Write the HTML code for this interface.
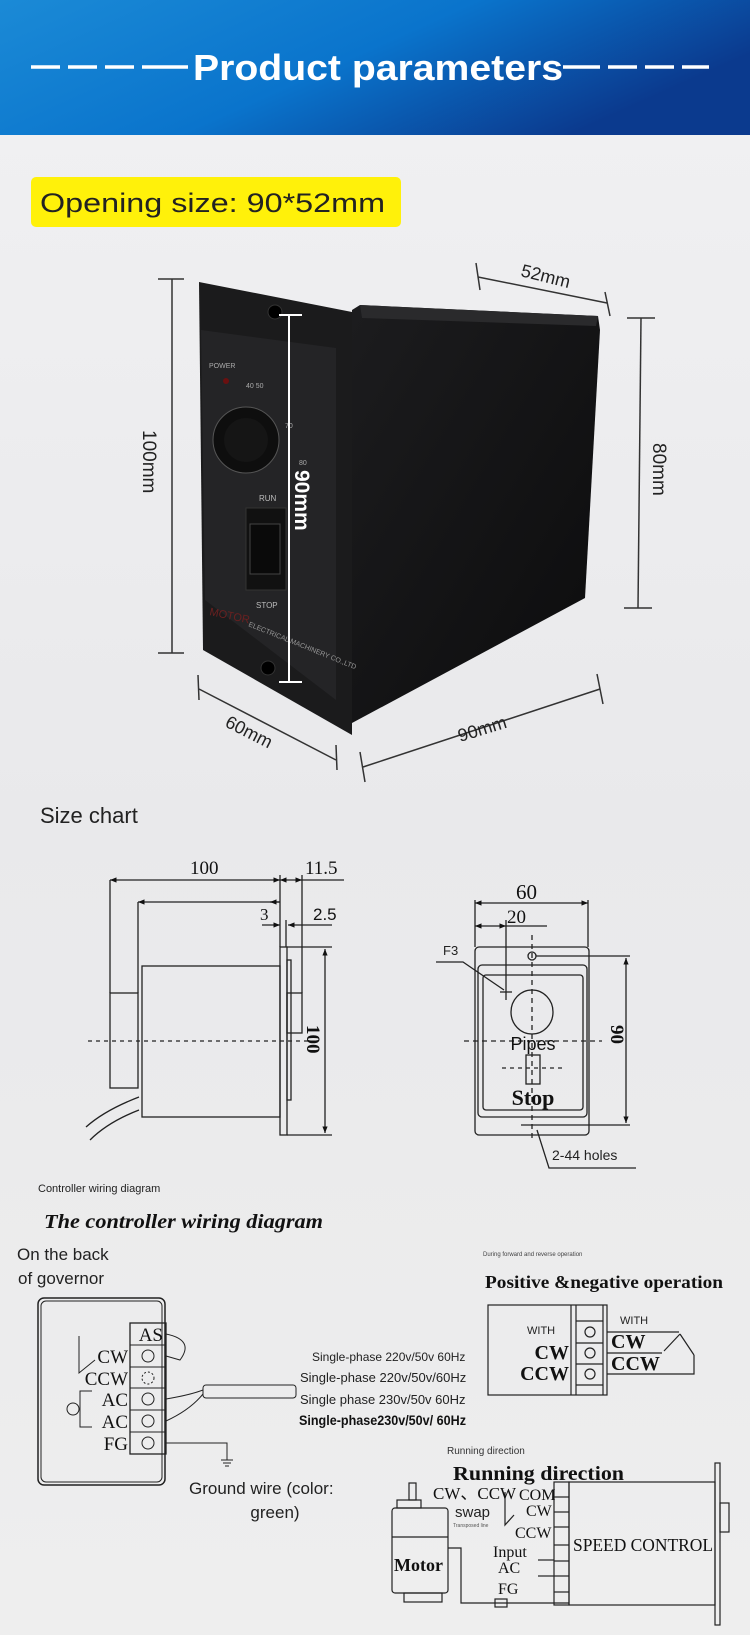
<!DOCTYPE html>
<html><head><meta charset="utf-8"><style>
html,body{margin:0;padding:0;width:750px;height:1635px;overflow:hidden;background:#ececec}
svg{display:block}
</style></head><body>
<svg width="750" height="1635" viewBox="0 0 750 1635" xmlns="http://www.w3.org/2000/svg" font-family="Liberation Sans, sans-serif">
<defs>
<linearGradient id="hd" x1="0" y1="0" x2="1" y2="0.4">
<stop offset="0" stop-color="#1b8ad6"/><stop offset="0.55" stop-color="#0a74cc"/><stop offset="1" stop-color="#0b3a8e"/></linearGradient>
<linearGradient id="bg" x1="0" y1="0" x2="0" y2="1">
<stop offset="0" stop-color="#f1f1f3"/><stop offset="0.5" stop-color="#e9e9eb"/><stop offset="1" stop-color="#eeeeee"/></linearGradient>
<linearGradient id="bd" x1="0" y1="0" x2="1" y2="1">
<stop offset="0" stop-color="#1c1c1e"/><stop offset="1" stop-color="#0c0c0d"/></linearGradient>
<marker id="ar" viewBox="0 0 10 10" refX="10" refY="5" markerWidth="7" markerHeight="5" orient="auto-start-reverse"><path d="M0,1L10,5L0,9z" fill="#111"/></marker>
</defs>
<rect width="750" height="1635" fill="url(#bg)"/>
<rect width="750" height="135" fill="url(#hd)"/>
<g stroke="#fff" stroke-width="3.5">
<line x1="31" y1="67" x2="60" y2="67"/><line x1="68" y1="67" x2="97" y2="67"/><line x1="105" y1="67" x2="134" y2="67"/><line x1="142" y1="67" x2="188" y2="67"/>
<line x1="563" y1="67" x2="600" y2="67"/><line x1="608" y1="67" x2="637" y2="67"/><line x1="645" y1="67" x2="674" y2="67"/><line x1="682" y1="67" x2="709" y2="67"/>
</g>
<text x="378" y="80" fill="#fff" font-size="36" font-weight="bold" text-anchor="middle" textLength="370" lengthAdjust="spacingAndGlyphs">Product parameters</text>
<rect x="31" y="177" width="370" height="50" rx="5" fill="#fff10a"/>
<text x="40" y="212" font-size="27" fill="#222" textLength="345" lengthAdjust="spacingAndGlyphs">Opening size: 90*52mm</text>

<!-- product photo -->
<polygon points="352,310 360,305 598,316 600,330 585,598 352,723" fill="url(#bd)"/>
<polygon points="360,305 598,316 596,326 362,318" fill="#2a2a2c"/>
<polygon points="199,282 352,312 352,735 203,650" fill="#1b1b1c"/>
<polygon points="201,330 336,348 336,700 205,600" fill="#242426"/>
<circle cx="275" cy="312" r="7" fill="#000" stroke="#333"/>
<circle cx="268" cy="668" r="7" fill="#000" stroke="#333"/>
<text x="209" y="368" font-size="7" fill="#aaa">POWER</text>
<circle cx="226" cy="381" r="3" fill="#6a1010"/>
<circle cx="246" cy="440" r="33" fill="#0e0e0e" stroke="#555" stroke-width="1"/>
<circle cx="246" cy="440" r="22" fill="#151515"/>
<text x="246" y="388" font-size="7" fill="#aaa">40  50</text>
<text x="285" y="428" font-size="7" fill="#aaa">70</text>
<text x="299" y="465" font-size="7" fill="#aaa">80</text>
<text x="259" y="501" font-size="8" fill="#bbb">RUN</text>
<rect x="246" y="508" width="40" height="82" fill="#111" stroke="#333"/>
<rect x="250" y="524" width="30" height="50" fill="#0a0a0a" stroke="#444"/>
<text x="256" y="608" font-size="8" fill="#bbb">STOP</text>
<text x="209" y="615" font-size="11" fill="#6a2020" transform="rotate(12 209 615)">MOTOR</text>
<text x="248" y="626" font-size="7" fill="#999" transform="rotate(22 248 626)">ELECTRICAL MACHINERY CO.,LTD</text>
<line x1="289" y1="315" x2="289" y2="682" stroke="#fff" stroke-width="2"/>
<line x1="279" y1="315" x2="302" y2="315" stroke="#fff" stroke-width="2"/>
<line x1="279" y1="682" x2="302" y2="682" stroke="#fff" stroke-width="2"/>
<text x="0" y="0" font-size="21" font-weight="bold" fill="#fff" transform="translate(295,470) rotate(90)">90mm</text>
<g stroke="#333" stroke-width="1.5" fill="none">
<line x1="172" y1="279" x2="172" y2="653"/><line x1="158" y1="279" x2="184" y2="279"/><line x1="158" y1="653" x2="184" y2="653"/>
<line x1="641" y1="318" x2="638" y2="608"/><line x1="627" y1="318" x2="655" y2="318"/><line x1="624" y1="608" x2="652" y2="608"/>
<line x1="478" y1="277" x2="607" y2="303"/><line x1="476" y1="263" x2="480" y2="290"/><line x1="605" y1="292" x2="610" y2="316"/>
<line x1="363" y1="767" x2="600" y2="689"/><line x1="360" y1="752" x2="365" y2="782"/><line x1="597" y1="674" x2="603" y2="704"/>
<line x1="199" y1="689" x2="336" y2="760"/><line x1="198" y1="675" x2="199" y2="700"/><line x1="336" y1="745" x2="337" y2="770"/>
</g>
<text font-size="19" fill="#222" transform="translate(143,430) rotate(90)">100mm</text>
<text font-size="19" fill="#222" transform="translate(653,443) rotate(90)">80mm</text>
<text x="520" y="276" font-size="18" fill="#222" transform="rotate(14 520 276)">52mm</text>
<text x="460" y="742" font-size="18" fill="#222" transform="rotate(-17 460 742)">90mm</text>
<text x="224" y="726" font-size="18" fill="#222" transform="rotate(27 224 726)">60mm</text>

<!-- size chart -->
<text x="40" y="823" font-size="22" fill="#222">Size chart</text>
<g stroke="#222" stroke-width="1.3" fill="none">
<line x1="110" y1="880" x2="280" y2="880" marker-start="url(#ar)" marker-end="url(#ar)"/>
<line x1="280" y1="880" x2="302" y2="880" marker-start="url(#ar)" marker-end="url(#ar)"/>
<line x1="302" y1="880" x2="344" y2="880"/>
<line x1="138" y1="902" x2="280" y2="902" marker-start="url(#ar)"/>
<line x1="280" y1="902" x2="270" y2="902" marker-end="url(#ar)"/>
<line x1="262" y1="925" x2="280" y2="925" marker-end="url(#ar)"/>
<line x1="332" y1="925" x2="288" y2="925" marker-end="url(#ar)"/>
<line x1="110" y1="880" x2="110" y2="993"/><line x1="138" y1="902" x2="138" y2="993"/>
<line x1="280" y1="875" x2="280" y2="947"/><line x1="286" y1="920" x2="286" y2="947"/><line x1="302" y1="875" x2="302" y2="993"/>
<rect x="280" y="947" width="7" height="188"/>
<rect x="142" y="966" width="138" height="151"/>
<rect x="110" y="993" width="28" height="95"/>
<rect x="287" y="993" width="15" height="40"/>
<rect x="287" y="960" width="4" height="140"/>
<line x1="88" y1="1041" x2="311" y2="1041" stroke-dasharray="4,4"/>
<line x1="325" y1="949" x2="325" y2="1133" marker-start="url(#ar)" marker-end="url(#ar)"/>
<line x1="287" y1="947" x2="332" y2="947"/><line x1="287" y1="1135" x2="332" y2="1135"/>
<path d="M139,1097 Q105,1110 86,1127"/><path d="M139,1110 Q108,1122 90,1140"/>
</g>
<text x="190" y="874" font-size="19" fill="#111" font-family="Liberation Serif, serif">100</text>
<text x="305" y="874" font-size="19" fill="#111" font-family="Liberation Serif, serif">11.5</text>
<text x="260" y="920" font-size="17" fill="#111" font-family="Liberation Serif, serif">3</text>
<text x="313" y="920" font-size="17" fill="#111">2.5</text>
<text font-size="19" fill="#111" font-family="Liberation Serif, serif" font-weight="bold" transform="translate(307,1025) rotate(90)">100</text>

<g stroke="#222" stroke-width="1.3" fill="none">
<line x1="475" y1="903" x2="588" y2="903" marker-start="url(#ar)" marker-end="url(#ar)"/>
<line x1="475" y1="926" x2="506" y2="926" marker-start="url(#ar)" marker-end="url(#ar)"/>
<line x1="506" y1="926" x2="547" y2="926"/>
<line x1="475" y1="900" x2="475" y2="947"/><line x1="588" y1="900" x2="588" y2="947"/><line x1="506" y1="920" x2="506" y2="1000"/>
<rect x="475" y="947" width="114" height="188" rx="4"/>
<rect x="478" y="965" width="109" height="152" rx="4"/>
<rect x="483" y="975" width="100" height="135" rx="3"/>
<ellipse cx="532" cy="1012" rx="21" ry="22"/>
<line x1="532" y1="935" x2="532" y2="1140" stroke-dasharray="5,4"/>
<circle cx="532" cy="956" r="4"/>
<line x1="536" y1="956" x2="630" y2="956"/><line x1="521" y1="1125" x2="630" y2="1125"/>
<line x1="626" y1="958" x2="626" y2="1123" marker-start="url(#ar)" marker-end="url(#ar)"/>
<line x1="464" y1="1041" x2="602" y2="1041" stroke-dasharray="5,4"/>
<rect x="526" y="1055" width="14" height="29"/>
<line x1="502" y1="1068" x2="562" y2="1068" stroke-dasharray="4,4"/>
<polyline points="436,962 463,962 504,990"/>
<line x1="500" y1="992" x2="512" y2="992"/>
<polyline points="537,1130 549,1168 636,1168"/>
</g>
<text x="516" y="899" font-size="21" fill="#111" font-family="Liberation Serif, serif">60</text>
<text x="507" y="923" font-size="19" fill="#111" font-family="Liberation Serif, serif">20</text>
<text x="443" y="955" font-size="13" fill="#222">F3</text>
<text x="533" y="1050" font-size="18" fill="#111" text-anchor="middle">Pipes</text>
<text x="533" y="1105" font-size="22" fill="#111" text-anchor="middle" font-family="Liberation Serif, serif" font-weight="bold">Stop</text>
<text font-size="19" fill="#111" font-family="Liberation Serif, serif" font-weight="bold" transform="translate(611,1025) rotate(90)">90</text>
<text x="552" y="1160" font-size="14" fill="#222">2-44 holes</text>

<!-- wiring -->
<text x="38" y="1192" font-size="11" fill="#222">Controller wiring diagram</text>
<text x="44" y="1228" font-size="20" fill="#111" font-family="Liberation Serif, serif" font-style="italic" font-weight="bold" textLength="279" lengthAdjust="spacingAndGlyphs">The controller wiring diagram</text>
<text x="17" y="1260" font-size="17" fill="#222">On the back</text>
<text x="18" y="1284" font-size="17" fill="#222">of governor</text>
<g stroke="#222" fill="none">
<rect x="38" y="1298" width="127" height="187" rx="6" stroke-width="1.5"/>
<rect x="41" y="1301" width="121" height="181" rx="5" stroke-width="1"/>
<rect x="130" y="1323" width="36" height="131" stroke-width="1.3"/>
<line x1="130" y1="1345" x2="166" y2="1345"/><line x1="130" y1="1367" x2="166" y2="1367"/><line x1="130" y1="1388" x2="166" y2="1388"/><line x1="130" y1="1410" x2="166" y2="1410"/><line x1="130" y1="1432" x2="166" y2="1432"/>
<circle cx="148" cy="1356" r="6"/><circle cx="148" cy="1378" r="6" stroke-dasharray="2,2"/><circle cx="148" cy="1399" r="6"/><circle cx="148" cy="1421" r="6"/><circle cx="148" cy="1443" r="6"/>
<polyline points="79,1336 79,1373 95,1360"/>
<polyline points="92,1391 80,1391 80,1427 92,1427"/><circle cx="73" cy="1409" r="6"/>
<path d="M166,1334 Q195,1340 180,1360 L166,1356"/>
<path d="M166,1399 Q190,1395 203,1390 M166,1421 Q190,1410 203,1394"/>
<rect x="203" y="1385" width="93" height="13" rx="3"/>
<polyline points="166,1443 227,1443 227,1460"/>
<line x1="221" y1="1460" x2="233" y2="1460"/><line x1="223" y1="1463" x2="231" y2="1463"/><line x1="225" y1="1466" x2="229" y2="1466"/>
</g>
<g font-family="Liberation Serif, serif" font-size="19" fill="#111" text-anchor="end">
<text x="163" y="1341">AS</text><text x="128" y="1363">CW</text><text x="128" y="1385">CCW</text><text x="128" y="1406">AC</text><text x="128" y="1428">AC</text><text x="128" y="1450">FG</text>
</g>
<text x="312" y="1361" font-size="12" fill="#222">Single-phase 220v/50v 60Hz</text>
<text x="300" y="1382" font-size="13" fill="#222">Single-phase 220v/50v/60Hz</text>
<text x="300" y="1404" font-size="13" fill="#222">Single phase 230v/50v 60Hz</text>
<text x="299" y="1425" font-size="14" fill="#111" font-weight="bold" textLength="167" lengthAdjust="spacingAndGlyphs">Single-phase230v/50v/ 60Hz</text>
<text x="189" y="1494" font-size="17" fill="#222">Ground wire (color:</text>
<text x="275" y="1518" font-size="17" fill="#222" text-anchor="middle">green)</text>

<text x="483" y="1256" font-size="6" fill="#444">During forward and reverse operation</text>
<text x="485" y="1288" font-size="18" fill="#111" font-family="Liberation Serif, serif" font-weight="bold" textLength="238" lengthAdjust="spacingAndGlyphs">Positive &amp;negative operation</text>
<g stroke="#222" fill="none" stroke-width="1.2">
<rect x="488" y="1305" width="119" height="90"/>
<line x1="571" y1="1305" x2="571" y2="1395"/><line x1="576" y1="1305" x2="576" y2="1395"/><line x1="603" y1="1305" x2="603" y2="1395"/>
<line x1="576" y1="1321" x2="603" y2="1321"/><line x1="576" y1="1343" x2="603" y2="1343"/><line x1="576" y1="1364" x2="603" y2="1364"/><line x1="576" y1="1385" x2="603" y2="1385"/>
<circle cx="590" cy="1332" r="5"/><circle cx="590" cy="1353" r="5"/><circle cx="590" cy="1374" r="5"/>
<polyline points="607,1332 679,1332"/><polyline points="607,1353 662,1353"/><polyline points="607,1374 694,1374 694,1355"/>
<line x1="664" y1="1351" x2="680" y2="1334"/><line x1="680" y1="1334" x2="694" y2="1355"/>
</g>
<text x="527" y="1334" font-size="11" fill="#222">WITH</text>
<text x="620" y="1324" font-size="11" fill="#222">WITH</text>
<g font-family="Liberation Serif, serif" font-size="20" fill="#111" font-weight="bold">
<text x="569" y="1359" text-anchor="end">CW</text><text x="569" y="1380" text-anchor="end">CCW</text>
<text x="611" y="1348">CW</text><text x="611" y="1370">CCW</text>
</g>

<text x="447" y="1454" font-size="10" fill="#333">Running direction</text>
<text x="453" y="1480" font-size="20" fill="#111" font-family="Liberation Serif, serif" font-weight="bold" textLength="171" lengthAdjust="spacingAndGlyphs">Running direction</text>
<g stroke="#222" fill="none" stroke-width="1.2">
<rect x="569" y="1482" width="146" height="123"/>
<rect x="715" y="1463" width="5" height="162"/>
<rect x="720" y="1503" width="9" height="29"/>
<rect x="554" y="1482" width="15" height="123"/>
<line x1="554" y1="1497" x2="569" y2="1497"/><line x1="554" y1="1512" x2="569" y2="1512"/><line x1="554" y1="1527" x2="569" y2="1527"/><line x1="554" y1="1545" x2="569" y2="1545"/><line x1="554" y1="1561" x2="569" y2="1561"/><line x1="554" y1="1576" x2="569" y2="1576"/><line x1="554" y1="1592" x2="569" y2="1592"/>
<rect x="392" y="1508" width="56" height="85" rx="3"/>
<line x1="392" y1="1537" x2="448" y2="1537"/>
<rect x="409" y="1483" width="7" height="17"/>
<rect x="397" y="1500" width="24" height="8"/>
<rect x="404" y="1593" width="38" height="9"/>
<polyline points="448,1548 461,1548 461,1603 569,1603"/>
<rect x="495" y="1599" width="12" height="8"/>
<polyline points="505,1492 505,1525 514,1515"/>
<line x1="538" y1="1560" x2="554" y2="1560"/><line x1="538" y1="1576" x2="554" y2="1576"/>
</g>
<text x="573" y="1551" font-size="18" fill="#111" font-family="Liberation Serif, serif" textLength="140" lengthAdjust="spacingAndGlyphs">SPEED CONTROL</text>
<g font-family="Liberation Serif, serif" font-size="16" fill="#111">
<text x="519" y="1500">COM</text><text x="526" y="1516">CW</text><text x="515" y="1538">CCW</text>
<text x="493" y="1557">Input</text><text x="498" y="1573">AC</text><text x="498" y="1594">FG</text>
</g>
<text x="433" y="1499" font-size="17" fill="#111" font-family="Liberation Serif, serif">CW、CCW</text>
<text x="455" y="1517" font-size="15" fill="#222">swap</text>
<text x="453" y="1527" font-size="5" fill="#555">Transposed line</text>
<text x="394" y="1571" font-size="18" fill="#111" font-family="Liberation Serif, serif" font-weight="bold">Motor</text>
</svg>
</body></html>
